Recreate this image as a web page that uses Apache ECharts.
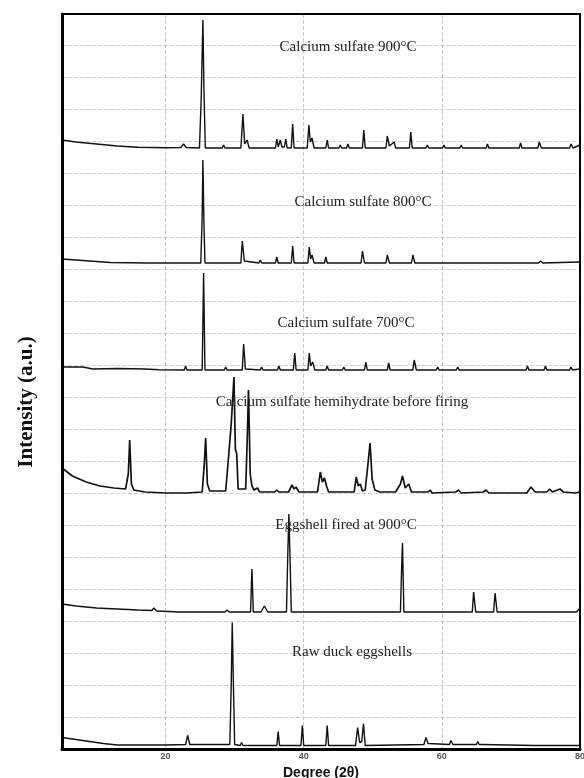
<!DOCTYPE html>
<html>
<head>
<meta charset="utf-8">
<script src="https://cdn.jsdelivr.net/npm/echarts@6/dist/echarts.min.js"></script>
<style>html,body{margin:0;padding:0;background:#fff}#c{width:584px;height:778px}</style>
</head>
<body>
<div id="c"></div>
<script>
// 2θ (degrees), relative intensity (a.u.)
const cs900 = [[5,8],[7,6],[10,4],[13,2],[16,0.8],[20,0.3],[22.2,0.5],[22.6,4],[23,0.5],[24.9,0],[25.15,48],[25.4,128],[25.55,60],[25.75,0],[28.2,0],[28.4,3],[28.6,0],[30.9,0],[31.2,34],[31.45,4],[31.8,8],[32.1,0],[35.9,0],[36.1,9],[36.3,1],[36.6,8],[36.85,1],[37.2,1],[37.4,9],[37.6,0],[38.2,0],[38.4,24],[38.6,0],[40.5,0],[40.75,23],[40.95,6],[41.2,10],[41.5,0],[43.2,0],[43.4,8],[43.6,0],[45.1,0],[45.3,3],[45.5,0],[46.2,0],[46.4,4],[46.6,0],[48.5,0],[48.7,18],[48.9,0],[51.9,0],[52.1,12],[52.4,2],[53.1,6],[53.3,0],[55.3,0],[55.5,16],[55.7,0],[57.7,0],[57.9,3],[58.1,0],[60.1,0],[60.3,3],[60.5,0],[62.6,0],[62.8,3],[63,0],[66.4,0],[66.6,4],[66.8,0],[71.2,0],[71.4,5],[71.6,0],[73.9,0],[74.1,6],[74.4,0],[78.5,0],[78.7,4],[79,0],[80,3]];
const cs800 = [[5,4],[7,3],[10,1.5],[12,0.5],[17.5,0],[17.7,2],[17.9,0],[22.6,0],[22.8,2],[23,0],[25.1,0],[25.3,48],[25.4,103],[25.55,40],[25.7,0],[28.5,0],[28.7,2],[28.9,0],[30.9,0],[31.1,22],[31.4,2],[33.5,0],[33.7,3],[33.9,0],[35.9,0],[36.1,6],[36.3,0],[38.2,0],[38.4,17],[38.6,0],[40.6,0],[40.8,16],[41,4],[41.2,8],[41.5,0],[43,0],[43.2,6],[43.4,0],[45.1,0],[45.3,2],[45.5,0],[48.3,0],[48.5,12],[48.8,0],[51.9,0],[52.1,8],[52.4,0],[55.6,0],[55.8,8],[56.1,0],[58.9,0],[59.1,2],[59.3,0],[62.1,0],[62.3,2],[62.5,0],[74,0],[74.3,2],[74.6,0],[80,1]];
const cs700 = [[5,3],[8,3],[9.5,1],[13,1.5],[17,1],[19,0.3],[22.7,0],[22.9,4],[23.1,0],[25.3,0],[25.5,97],[25.7,0],[28.5,0],[28.7,3],[28.9,0],[31.1,0],[31.3,26],[31.55,1],[33.7,0],[33.9,3],[34.1,0],[36.2,0],[36.4,4],[36.6,0],[38.5,0],[38.7,17],[38.9,0],[40.6,0],[40.8,17],[41,4],[41.3,8],[41.6,0],[43.2,0],[43.4,4],[43.6,0],[45.6,0],[45.8,3],[46,0],[48.8,0],[49,8],[49.2,0],[52.1,0],[52.3,7],[52.5,0],[55.8,0],[56,10],[56.3,0],[59.2,0],[59.4,3],[59.6,0],[62.1,0],[62.3,3],[62.5,0],[65.5,0],[65.7,2],[65.9,0],[72.2,0],[72.4,4],[72.6,0],[74.8,0],[75,4],[75.2,0],[78.5,0],[78.7,3],[78.9,0],[80,1]];
const hemihydrate = [[5,26],[6.5,18],[8.5,12],[10.5,8],[12.5,6],[14.2,5],[14.6,20],[14.8,54],[15.05,10],[15.4,4],[17,2],[20,1],[23,1],[25.3,2],[25.6,30],[25.8,56],[26.05,10],[26.4,3],[28.7,3],[29.15,40],[29.5,70],[29.9,117],[30.1,45],[30.3,40],[30.5,5],[31.6,5],[31.8,50],[32.0,104],[32.25,20],[32.5,8],[32.8,4],[33.3,6],[33.6,2],[35.8,2],[36.1,4],[36.4,2],[37.8,2],[38.3,9],[38.6,5],[38.9,7],[39.3,2],[42,2],[42.4,22],[42.7,12],[43.0,16],[43.3,8],[43.6,2],[47.3,2],[47.6,17],[47.9,8],[48.2,10],[48.5,3],[48.9,4],[49.3,30],[49.6,51],[49.9,15],[50.3,4],[51,2],[53.3,2],[54.0,10],[54.3,18],[54.7,6],[55.2,10],[55.6,2],[58,2],[58.3,4],[58.6,1],[62,2],[62.4,4],[62.8,1],[66,2],[66.4,4],[66.8,1],[72.3,1],[72.9,7],[73.5,2],[75.2,2],[75.6,5],[76,2],[77.1,5],[77.6,2],[79.3,1],[80,2]];
const eggFired = [[5,8],[7,6],[10,4],[13,3],[16,2],[18,1.5],[18.3,4],[18.7,1],[22,0],[28.6,0],[28.9,2],[29.2,0],[32.3,0],[32.5,43],[32.7,0],[33.8,0],[34.3,6],[34.8,0],[37.5,0],[37.7,60],[37.85,98],[38.05,45],[38.2,0],[47.4,0],[47.6,2],[47.8,0],[51,0],[51.2,2],[51.4,0],[54.0,0],[54.2,50],[54.3,69],[54.5,0],[64.4,0],[64.6,20],[64.9,0],[67.5,0],[67.7,19],[68.0,0],[79.5,0],[80,4]];
const rawEgg = [[5,8],[7,6],[9,4],[11,2],[13,0.5],[20,0.5],[22.9,1],[23.2,10],[23.5,1],[29.3,1],[29.5,60],[29.65,123],[29.85,50],[30.0,1],[30.8,0],[31,3],[31.2,0],[36.1,0],[36.3,14],[36.5,0],[39.6,0],[39.8,20],[40,0],[43.2,0],[43.4,20],[43.6,0],[47.5,0],[47.8,18],[48.1,3],[48.4,4],[48.65,22],[48.9,0],[57.4,1],[57.7,8],[58,2],[61.1,1],[61.3,5],[61.6,1],[65,1],[65.2,4],[65.4,1],[65.6,3],[65.8,1],[73.5,0],[73.7,2],[73.9,0],[77,0],[77.2,2],[77.4,0],[80,0]];
const seriesNames = ['Calcium sulfate 900°C','Calcium sulfate 800°C','Calcium sulfate 700°C','Calcium sulfate hemihydrate before firing','Eggshell fired at 900°C','Raw duck eggshells'];
const xTicks = [20,40,60,80];

// layout (stacking offsets and label positions)
const seriesData = [cs900, cs800, cs700, hemihydrate, eggFired, rawEgg];
const offsets = [601, 486, 379, 255, 137, 3.5];
const labelPos = [[348,47],[363,202],[346,323],[342,402],[346,525],[352,652]];
const G = {left:62, right:4, top:14, bottom:29};

const chart = echarts.init(document.getElementById('c'), null, {renderer:'canvas'});
const graphics = seriesNames.map((n,i)=>({
  type:'text', x:labelPos[i][0], y:labelPos[i][1], z:100,
  style:{text:n, font:'15px "Liberation Serif"', fill:'#222', align:'center', verticalAlign:'middle'}
}));
graphics.push({
  type:'text', x:27, y:402, rotation:Math.PI/2, z:100,
  style:{text:'Intensity (a.u.)', font:'bold 21px "Liberation Serif"', fill:'#111', align:'center', verticalAlign:'middle'}
});
graphics.push({
  type:'rect', z:90, silent:true,
  shape:{x:G.left, y:G.top, width:584-G.left-G.right, height:778-G.top-G.bottom},
  style:{fill:null, stroke:'#000', lineWidth:2}
});
chart.setOption({
  animation:false,
  backgroundColor:'#fff',
  grid:{left:G.left, right:G.right, top:G.top, bottom:G.bottom, outerBoundsMode:'none', containLabel:false},
  xAxis:{
    type:'value', min:5, max:80,
    name:'Degree (2θ)', nameLocation:'middle', nameGap:13,
    nameTextStyle:{fontFamily:'Liberation Sans', fontWeight:'bold', fontSize:14, color:'#111'},
    axisLine:{show:true, lineStyle:{color:'#000', width:3}},
    axisTick:{show:false, customValues:xTicks},
    axisLabel:{customValues:xTicks, fontSize:9, fontWeight:'bold', color:'#555', margin:3, fontFamily:'Liberation Sans'},
    splitLine:{show:true, lineStyle:{color:'#c8c8c8', type:'dashed', width:1}}
  },
  yAxis:{
    type:'value', min:0, max:735, interval:32,
    axisLine:{show:true, lineStyle:{color:'#000', width:3}},
    axisTick:{show:false},
    axisLabel:{show:false},
    splitLine:{show:true, lineStyle:{color:'#d0d0d0', type:'dashed', width:1}}
  },
  graphic: graphics,
  series: seriesData.map((d,i)=>({
    type:'line', name:seriesNames[i], showSymbol:false, smooth:false,
    lineStyle:{color:'#111', width: i===3 ? 1.7 : 1.4},
    data: d.map(p=>[p[0], p[1]+offsets[i]])
  }))
});
</script>
</body>
</html>
